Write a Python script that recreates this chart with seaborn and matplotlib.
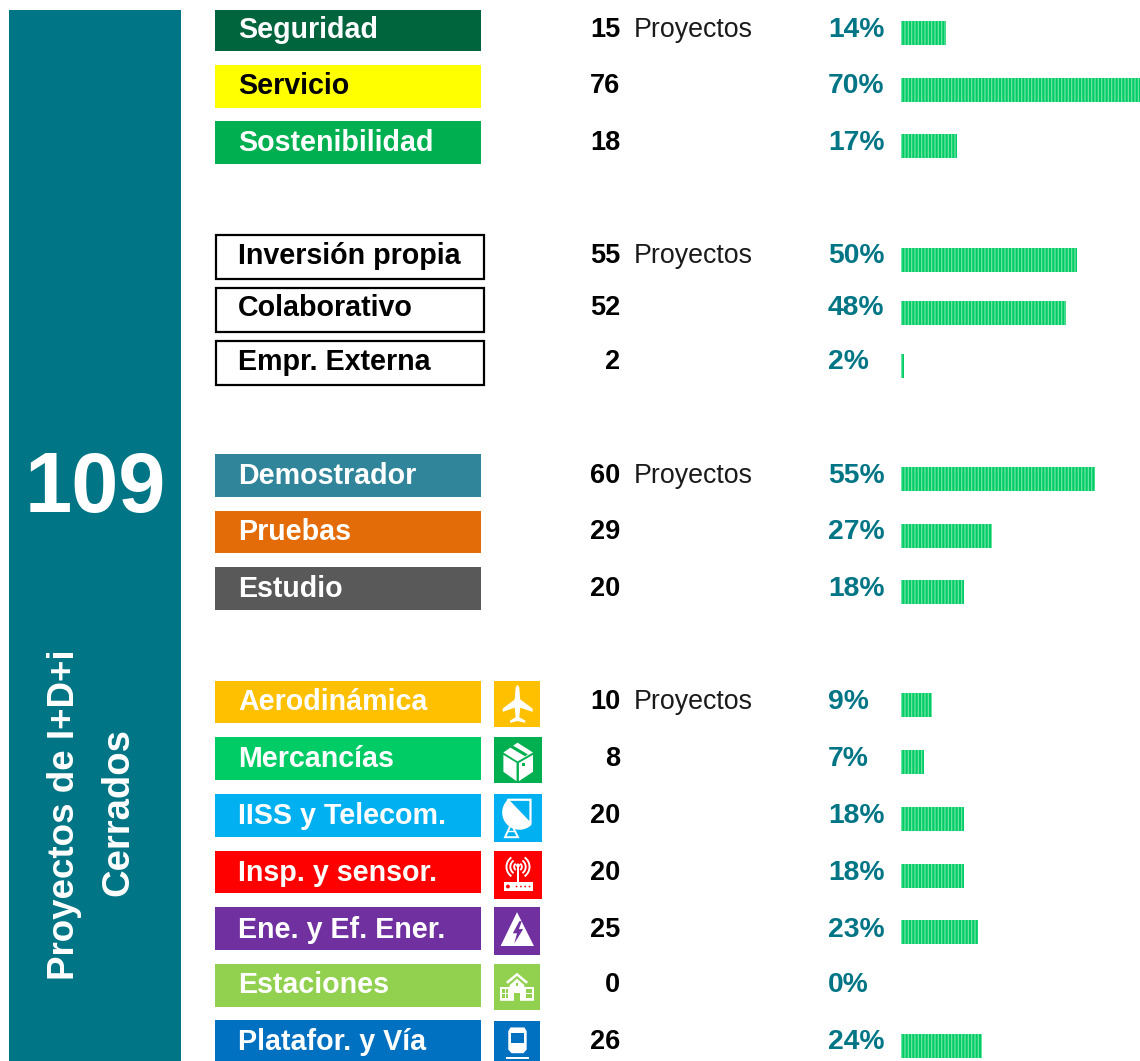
import matplotlib
matplotlib.use("Agg")
import matplotlib.pyplot as plt
import seaborn as sns
from matplotlib.patches import Rectangle, Polygon, Circle, Wedge

# ---------- data ----------
group1_names = ["Seguridad", "Servicio", "Sostenibilidad"]
group1_counts = [15, 76, 18]
group1_pct = [14, 70, 17]
group1_bars = [14.3, 76, 17.8]
group1_colors = ["#00643C", "#FFFF00", "#00B050"]
group1_text = ["white", "black", "white"]

group2_names = ["Inversión propia", "Colaborativo", "Empr. Externa"]
group2_counts = [55, 52, 2]
group2_pct = [50, 48, 2]
group2_bars = [56, 52.5, 1.0]
group2_colors = ["white", "white", "white"]
group2_text = ["black", "black", "black"]

group3_names = ["Demostrador", "Pruebas", "Estudio"]
group3_counts = [60, 29, 20]
group3_pct = [55, 27, 18]
group3_bars = [61.7, 29, 20]
group3_colors = ["#31859B", "#E36C09", "#595959"]
group3_text = ["white", "white", "white"]

group4_names = ["Aerodinámica", "Mercancías", "IISS y Telecom.", "Insp. y sensor.",
                "Ene. y Ef. Ener.", "Estaciones", "Platafor. y Vía"]
group4_counts = [10, 8, 20, 20, 25, 0, 26]
group4_pct = [9, 7, 18, 18, 23, 0, 24]
group4_bars = [9.9, 7.6, 20, 20, 24.5, 0, 25.8]
group4_colors = ["#FFC000", "#00CC66", "#00B0F0", "#FF0000", "#7030A0", "#92D050", "#0070C0"]
group4_text = ["white"] * 7
group4_icon_bg = ["#FFC000", "#00B050", "#00B0F0", "#FF0000", "#7030A0", "#92D050", "#0070C0"]

total_value = "109"
side_title = ["Proyectos de I+D+i", "Cerrados"]
unit_label = "Proyectos"

# ---------- layout (pixels) ----------
W, H = 1140, 1061
TEAL = "#007585"
BAR = "#00CC66"
BAR_LIGHT = "#6FE5A6"
FONT = "Liberation Sans"
sns.set_theme(style="white")
plt.rcParams["font.family"] = [FONT, "DejaVu Sans"]
plt.rcParams["hatch.linewidth"] = 0.9

fig = plt.figure(figsize=(W / 100, H / 100), dpi=100, facecolor="white")
bg = fig.add_axes([0, 0, 1, 1])
bg.set_xlim(0, W)
bg.set_ylim(H, 0)
bg.axis("off")

bg.add_patch(Rectangle((9, 10), 172, H - 10, color=TEAL, lw=0))
bg.text(95, 490, total_value, color="white", fontsize=61, fontweight="bold", ha="center", va="center")
bg.text(65, 815, side_title[0], color="white", fontsize=26.5, fontweight="bold", rotation=90, ha="center", va="center")
bg.text(118, 812, side_title[1], color="white", fontsize=27.5, fontweight="bold", rotation=90, ha="center", va="center")

groups = [
    dict(names=group1_names, counts=group1_counts, pct=group1_pct, bars=group1_bars, colors=group1_colors,
         text=group1_text, box=[(10, 51), (65, 108), (121, 164)], ty=[28, 84, 141], by=[33, 90, 146], border=False),
    dict(names=group2_names, counts=group2_counts, pct=group2_pct, bars=group2_bars, colors=group2_colors,
         text=group2_text, box=[(235, 279), (288, 332), (341, 385)], ty=[254, 306, 360], by=[260, 313, 366], border=True),
    dict(names=group3_names, counts=group3_counts, pct=group3_pct, bars=group3_bars, colors=group3_colors,
         text=group3_text, box=[(454, 497), (511, 553), (567, 610)], ty=[474, 530, 587], by=[479, 536, 592], border=False),
    dict(names=group4_names, counts=group4_counts, pct=group4_pct, bars=group4_bars, colors=group4_colors,
         text=group4_text, box=[(681, 723), (737, 780), (794, 837), (851, 893), (907, 950), (964, 1007), (1020, 1061)],
         ty=[700, 757, 814, 871, 928, 983, 1040], by=[705, 762, 819, 876, 932, 989, 1046], border=False),
]

BAR_X0, BAR_X1, BAR_MAX = 900.5, 1140, 76
BAR_H = 24

for g in groups:
    right = 484 if g["border"] else 481
    for i, name in enumerate(g["names"]):
        top, bot = g["box"][i]
        if g["border"]:
            bg.add_patch(Rectangle((216, top), right - 216, bot - top, facecolor="white", edgecolor="black", lw=1.6))
        else:
            bg.add_patch(Rectangle((215, top), right - 215, bot - top, color=g["colors"][i], lw=0))
        y = g["ty"][i] + 2
        # widened slightly to stand in for the source's letter spacing
        bg.text(238, y, name, color=g["text"][i], fontsize=20.6, fontweight="bold", ha="left", va="center")
        bg.text(620, y, str(g["counts"][i]), color="black", fontsize=19.5, fontweight="bold", ha="right", va="center")
        if i == 0:
            bg.text(634, y, unit_label, color="#1a1a1a", fontsize=19.3, ha="left", va="center")
        bg.text(828, y, f'{g["pct"][i]}%', color=TEAL, fontsize=20.3, fontweight="bold", ha="left", va="center")

    # bars: one seaborn axes per group, mapped onto the row pixel positions
    n = len(g["names"])
    step = (g["by"][-1] - g["by"][0]) / (n - 1)
    top_px = g["by"][0] - step / 2
    h_px = step * n
    ax = fig.add_axes([BAR_X0 / W, 1 - (top_px + h_px) / H, (BAR_X1 - BAR_X0) / W, h_px / H])
    ax.patch.set_alpha(0)
    sns.barplot(y=g["names"], x=g["bars"], ax=ax, orient="h", color=BAR, width=BAR_H / step,
                saturation=1, linewidth=0, hatch="|||||", edgecolor=BAR_LIGHT)
    ax.set_xlim(0, BAR_MAX)
    ax.axis("off")


# ---------- icons (white glyphs on coloured squares) ----------
def poly(pts, x, y, s, color="white"):
    bg.add_patch(Polygon([(x + a * s, y + b * s) for a, b in pts], closed=True, color=color, lw=0))


def rect(a, b, w, h, x, y, s, color="white"):
    bg.add_patch(Rectangle((x + a * s, y + b * s), w * s, h * s, color=color, lw=0))


def plane(x, y, s):
    poly([(.47, .14), (.51, .08), (.55, .14), (.57, .4), (.84, .6), (.84, .67), (.57, .58), (.55, .79),
          (.68, .86), (.68, .91), (.51, .87), (.35, .91), (.35, .86), (.47, .79), (.45, .58), (.19, .67),
          (.19, .6), (.45, .4)], x, y, s)


def box_icon(x, y, s, bgc):
    poly([(.5, .12), (.83, .33), (.5, .52), (.2, .33)], x, y, s)
    poly([(.2, .38), (.48, .55), (.48, .94), (.2, .74)], x, y, s)
    poly([(.53, .55), (.83, .38), (.83, .74), (.53, .94)], x, y, s)
    poly([(.34, .22), (.4, .18), (.72, .37), (.66, .41)], x, y, s, bgc)
    rect(.6, .55, .05, .07, x, y, s, bgc)


def dish(x, y, s, bgc):
    bg.add_patch(Wedge((x + .53 * s, y + .385 * s), .36 * s, 45, 225, color="white", lw=0))
    bg.add_patch(Polygon([(x + .28 * s, y + .12 * s), (x + .76 * s, y + .12 * s), (x + .76 * s, y + .62 * s)],
                         closed=True, facecolor="none", edgecolor="white", lw=1.6))
    bg.add_patch(Polygon([(x + .36 * s, y + .62 * s), (x + .5 * s, y + .9 * s), (x + .23 * s, y + .9 * s)],
                         closed=True, facecolor="none", edgecolor="white", lw=1.4))
    bg.plot([x + .29 * s, x + .44 * s], [y + .78 * s, y + .78 * s], color="white", lw=1.0)


def router(x, y, s, bgc):
    rect(.2, .64, .61, .2, x, y, s)
    rect(.48, .3, .04, .36, x, y, s)
    bg.add_patch(Circle((x + .5 * s, y + .3 * s), .04 * s, color="white", lw=0))
    for r in (.1, .18, .26):
        for t1, t2 in ((-55, 55), (125, 235)):
            bg.add_patch(Wedge((x + .5 * s, y + .33 * s), r * s, t1, t2, width=.04 * s, color="white", lw=0))
    bg.add_patch(Circle((x + .29 * s, y + .74 * s), .04 * s, color=bgc, lw=0))
    for d in (.47, .56, .65, .74):
        bg.add_patch(Circle((x + d * s, y + .74 * s), .018 * s, color=bgc, lw=0))


def warning(x, y, s, bgc):
    poly([(.49, .11), (.85, .83), (.14, .83)], x, y, s)
    poly([(.54, .3), (.4, .56), (.49, .56), (.43, .78), (.62, .47), (.53, .47), (.59, .3)], x, y, s, bgc)


def school(x, y, s, bgc):
    poly([(.5, .19), (.74, .39), (.7, .43), (.5, .26), (.3, .43), (.26, .39)], x, y, s)
    poly([(.5, .32), (.66, .46), (.66, .5), (.87, .5), (.87, .8), (.13, .8), (.13, .5), (.34, .5), (.34, .46)], x, y, s)
    for a in (.17, .25, .69, .77):
        for b in (.54, .66):
            rect(a, b, .065, .08, x, y, s, bgc)
    rect(.44, .62, .12, .18, x, y, s, bgc)
    rect(.47, .41, .06, .06, x, y, s, bgc)


def train(x, y, s, bgc):
    poly([(.36, .14), (.66, .14), (.71, .22), (.71, .62), (.64, .7), (.38, .7), (.31, .62), (.31, .22)], x, y, s)
    rect(.36, .26, .3, .22, x, y, s, bgc)
    rect(.26, .78, .5, .04, x, y, s)
    rect(.22, .87, .58, .04, x, y, s)


icon_boxes = [(494, 681, 46, 46), (494, 737, 48, 46), (494, 794, 48, 48), (494, 851, 48, 48),
              (494, 907, 46, 48), (494, 964, 46, 46), (494, 1021, 46, 46)]
for (bx, by, bw, bh), c in zip(icon_boxes, group4_icon_bg):
    bg.add_patch(Rectangle((bx, by), bw, bh, color=c, lw=0))
plane(494, 681, 46)
box_icon(494, 737, 47, group4_icon_bg[1])
dish(494, 794, 48, group4_icon_bg[2])
router(494, 851, 48, group4_icon_bg[3])
warning(494, 907, 47, group4_icon_bg[4])
school(494, 964, 46, group4_icon_bg[5])
train(494, 1021, 46, group4_icon_bg[6])
bg.set_xlim(0, W)
bg.set_ylim(H, 0)

fig.savefig("out.png", dpi=100, facecolor="white")
